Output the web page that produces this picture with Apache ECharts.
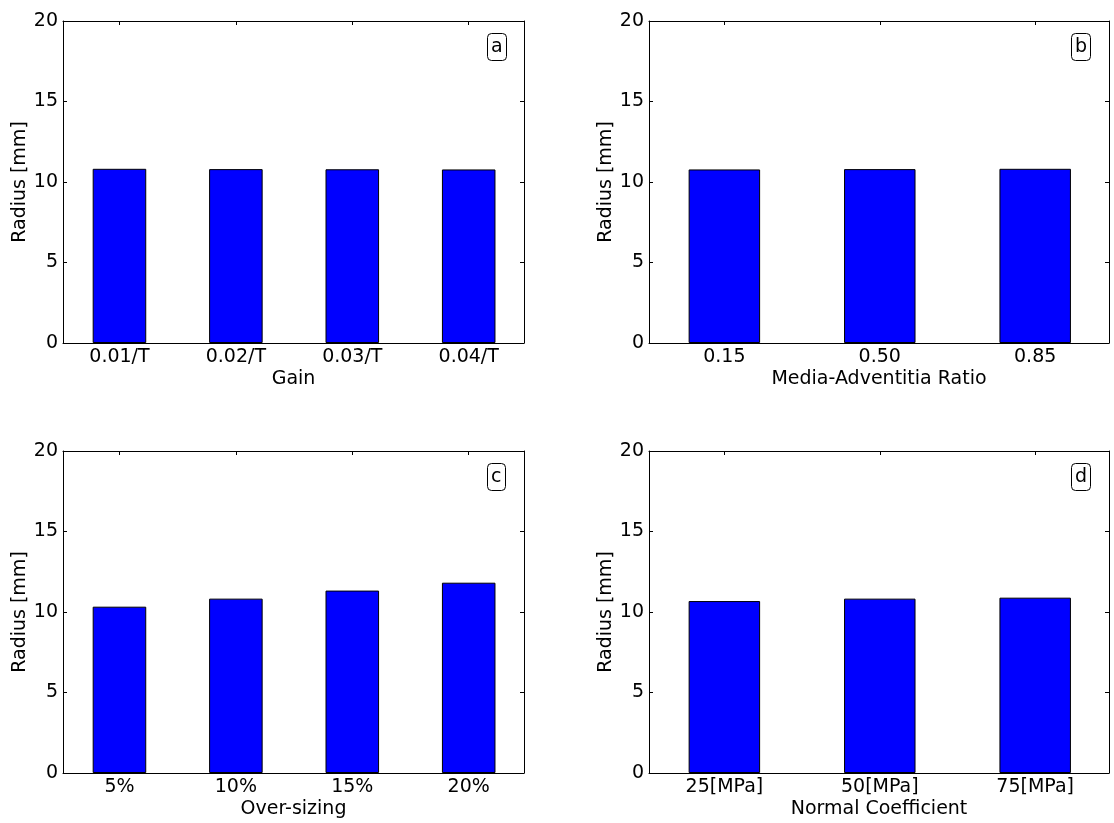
<!DOCTYPE html>
<html>
<head>
<meta charset="utf-8">
<script src="https://cdn.jsdelivr.net/npm/echarts@6/dist/echarts.min.js"></script>
<style>
html,body{margin:0;padding:0;background:#fff;}
#chart{width:1114px;height:823px;}
</style>
</head>
<body>
<div id="chart"></div>
<script>
// ---- data ----
const catsA = ['0.01/T', '0.02/T', '0.03/T', '0.04/T'];
const valsA = [10.82, 10.80, 10.79, 10.78];
const catsB = ['0.15', '0.50', '0.85'];
const valsB = [10.78, 10.80, 10.82];
const catsC = ['5%', '10%', '15%', '20%'];
const valsC = [10.33, 10.83, 11.33, 11.82];
const catsD = ['25[MPa]', '50[MPa]', '75[MPa]'];
const valsD = [10.68, 10.83, 10.89];
const xNames = ['Gain', 'Media-Adventitia Ratio', 'Over-sizing', 'Normal Coefficient'];
const panelLetters = ['a', 'b', 'c', 'd'];
const yName = 'Radius [mm]';
const yMin = 0, yMax = 20, yStep = 5;

// ---- layout ----
const FONT = 'DejaVu Sans';
const FS = 19;
const grids = [
  {left: 63, top: 21, width: 461, height: 322},
  {left: 649, top: 21, width: 460, height: 322},
  {left: 63, top: 451, width: 461, height: 322},
  {left: 649, top: 451, width: 460, height: 322}
];
const boxPos = [
  {left: 487, top: 33},
  {left: 1071, top: 33},
  {left: 487, top: 463},
  {left: 1071, top: 463}
];
const padLeft = 0.485, padRight = 0.475;
const catsAll = [catsA, catsB, catsC, catsD];
const valsAll = [valsA, valsB, valsC, valsD];

const lineStyle = {color: '#000', width: 1};
const xAxes = [], yAxes = [], series = [], titles = [];
catsAll.forEach((cats, i) => {
  const idx = cats.map((c, k) => k);
  const xmin = -padLeft, xmax = cats.length - 1 + padRight;
  xAxes.push({
    type: 'value', gridIndex: i, position: 'bottom', min: xmin, max: xmax,
    axisLine: {show: true, onZero: false, lineStyle: lineStyle},
    axisTick: {show: true, inside: true, length: 4, customValues: idx, lineStyle: lineStyle},
    axisLabel: {color: '#000', fontFamily: FONT, fontSize: FS, margin: 5,
      customValues: idx, formatter: v => cats[Math.round(v)]},
    name: xNames[i], nameLocation: 'middle', nameGap: 27,
    nameTextStyle: {color: '#000', fontFamily: FONT, fontSize: FS},
    splitLine: {show: false}
  });
  xAxes.push({
    type: 'value', gridIndex: i, position: 'top', min: xmin, max: xmax,
    axisLine: {show: true, onZero: false, lineStyle: lineStyle},
    axisTick: {show: true, inside: true, length: 4, customValues: idx, lineStyle: lineStyle},
    axisLabel: {show: false},
    splitLine: {show: false}
  });
  yAxes.push({
    type: 'value', gridIndex: i, position: 'left', min: yMin, max: yMax, interval: yStep,
    axisLine: {show: true, onZero: false, lineStyle: lineStyle},
    axisTick: {show: true, inside: true, length: 4, lineStyle: lineStyle},
    axisLabel: {color: '#000', fontFamily: FONT, fontSize: FS, margin: 5},
    name: yName, nameLocation: 'middle', nameGap: 32, nameRotate: 90,
    nameTextStyle: {color: '#000', fontFamily: FONT, fontSize: FS},
    splitLine: {show: false}
  });
  yAxes.push({
    type: 'value', gridIndex: i, position: 'right', min: yMin, max: yMax, interval: yStep,
    axisLine: {show: true, onZero: false, lineStyle: lineStyle},
    axisTick: {show: true, inside: true, length: 4, lineStyle: lineStyle},
    axisLabel: {show: false},
    splitLine: {show: false}
  });
  series.push({
    type: 'bar', xAxisIndex: 2 * i, yAxisIndex: 2 * i,
    data: valsAll[i].map((v, k) => [k, v]),
    barWidth: '46%',
    itemStyle: {color: '#0000ff', borderColor: '#000', borderWidth: 1},
    silent: true
  });
  titles.push({
    text: panelLetters[i], left: boxPos[i].left, top: boxPos[i].top,
    padding: [4, 4, 3, 4],
    borderColor: '#000', borderWidth: 1, borderRadius: 4,
    textStyle: {color: '#000', fontFamily: FONT, fontSize: FS, fontWeight: 'normal', lineHeight: 21}
  });
});

const chart = echarts.init(document.getElementById('chart'), null, {renderer: 'canvas'});
chart.setOption({
  animation: false,
  backgroundColor: '#fff',
  title: titles,
  grid: grids,
  xAxis: xAxes,
  yAxis: yAxes,
  series: series
});
</script>
</body>
</html>
